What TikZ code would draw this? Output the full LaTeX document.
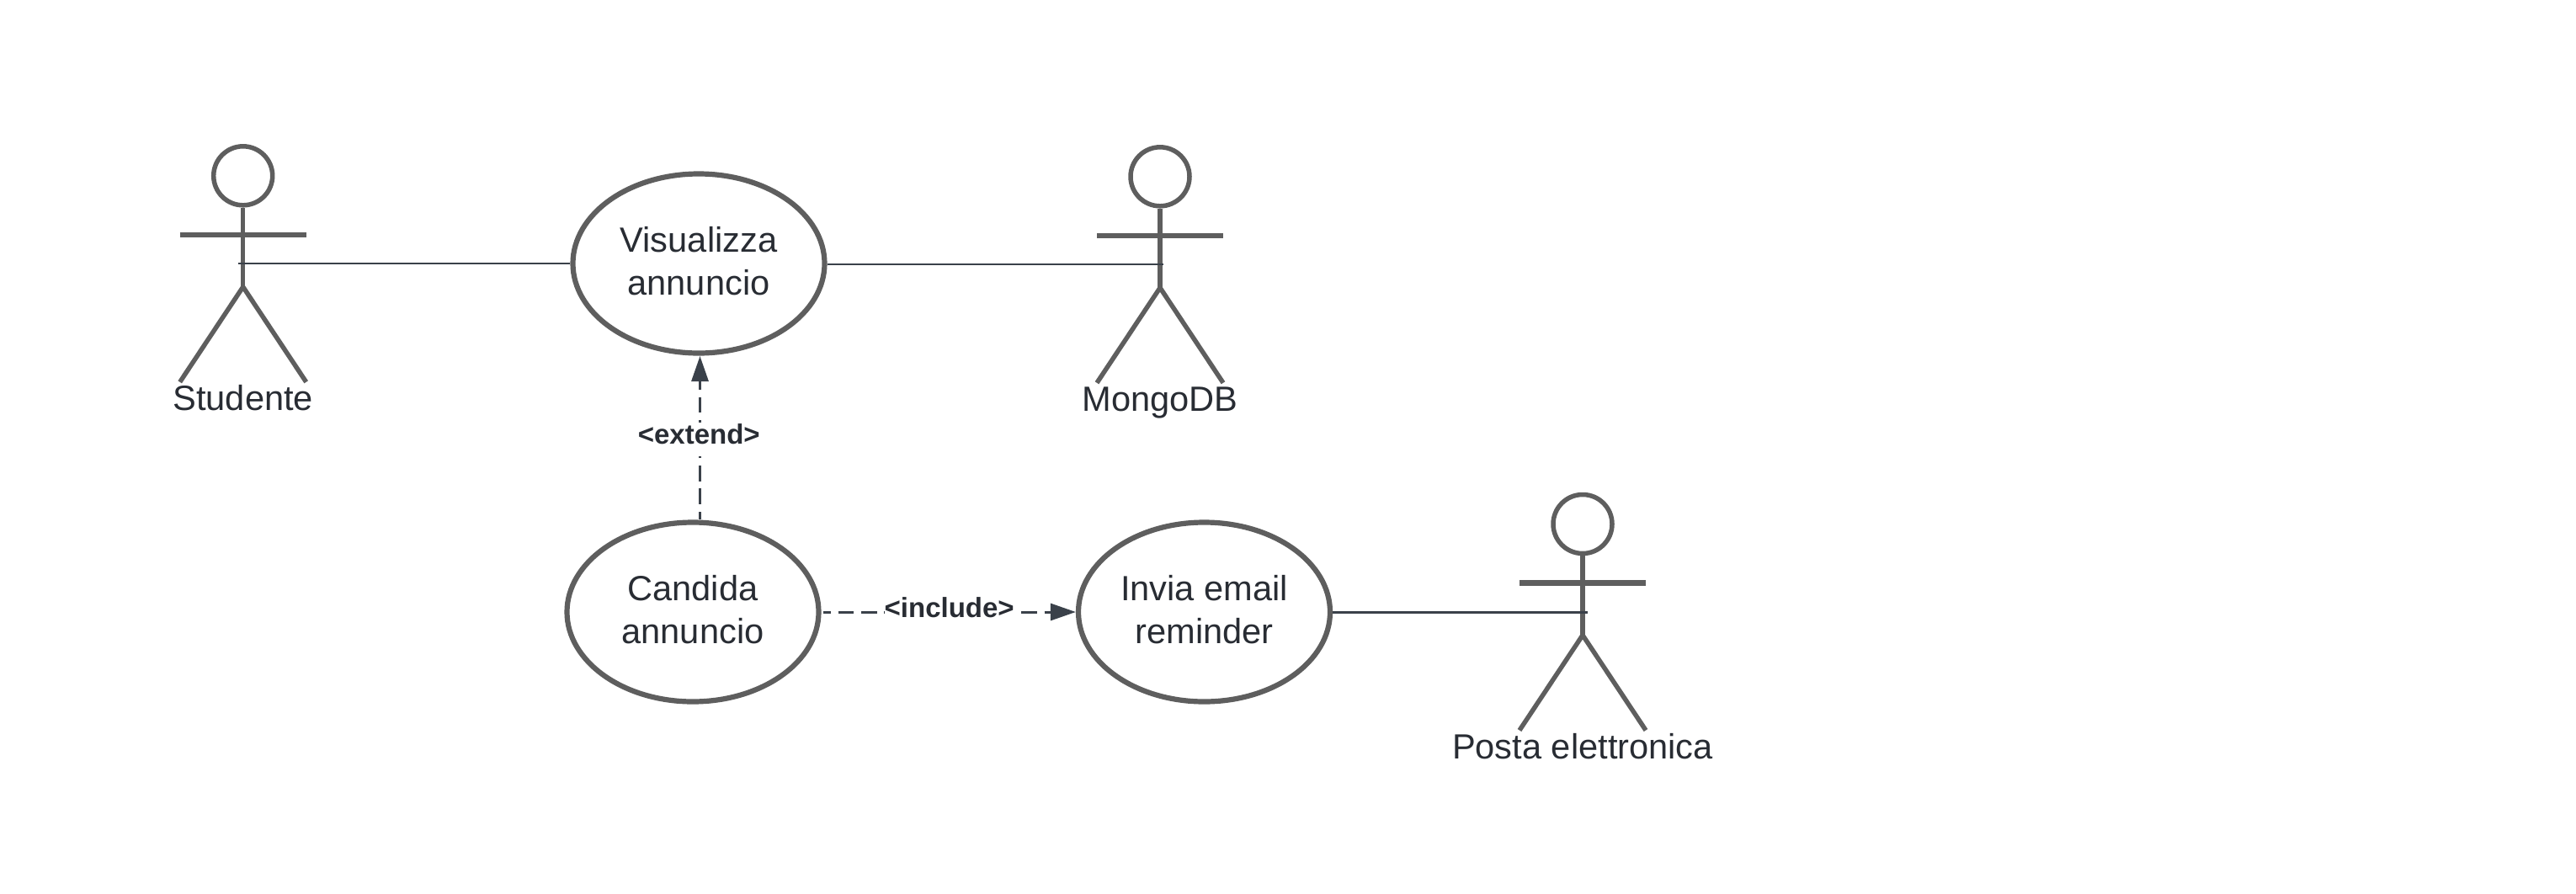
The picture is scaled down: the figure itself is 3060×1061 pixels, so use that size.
\documentclass[tikz,border=0pt]{standalone}
\usepackage{fontspec}
\setmainfont{Liberation Sans}
\usetikzlibrary{shapes.geometric,arrows.meta}
\definecolor{shapegray}{HTML}{5E5E5E}
\definecolor{textdark}{HTML}{282C33}
\definecolor{linedark}{HTML}{3A414A}
\newcommand{\lowfix}{\rule[-6pt]{0pt}{6pt}}
\tikzset{
  x=1pt,y=-1pt,
  usecase/.style={ellipse,draw=shapegray,line width=6.2pt,fill=white,minimum width=299pt,minimum height=213pt,inner sep=0pt,align=center,text=textdark,font=\fontsize{41.6}{50.5}\selectfont},
  limb/.style={draw=shapegray,line width=5.5pt},
  armbar/.style={draw=shapegray,line width=6.5pt},
  actorname/.style={anchor=base,inner sep=0pt,text=textdark,font=\fontsize{41.6}{50}\selectfont},
  assoc/.style={draw=linedark,line width=2.4pt},
  dep/.style={draw=linedark,line width=3pt,dash pattern=on 18.5pt off 8.7pt,dash phase=9pt,-{Triangle[length=30pt,width=20pt,color=linedark]}},
  deplabel/.style={anchor=base,fill=white,inner sep=0pt,text height=25pt,text depth=15pt,text=textdark,font=\bfseries\fontsize{33}{40}\selectfont},
}
\newcommand{\actor}[5]{%
  \node[circle,draw=shapegray,line width=5.5pt,minimum size=70pt,inner sep=0pt] (#1head) at (#2,#3) {};
  \coordinate (#1hip) at (#2,#3+132);
  \coordinate (#1armL) at (#2-75,#3+70);
  \coordinate (#1armR) at (#2+75,#3+70);
  \coordinate (#1footL) at (#2-75,#3+245);
  \coordinate (#1footR) at (#2+75,#3+245);
  \draw[limb] (#1head.south) -- (#1hip);
  \draw[armbar] (#1armL) -- (#1armR);
  \draw[limb] (#1footL) -- (#1hip) -- (#1footR);
  \node[actorname] (#1name) at (#2,#3+279) {#4};
  \coordinate (#1link) at (#2+#5,#3+105);
}
\begin{document}
\begin{tikzpicture}
\useasboundingbox (0,0) rectangle (3060,1061);
\actor{stud}{288.7}{208.8}{Studente}{-6}
\actor{mongo}{1378}{209.8}{MongoDB}{4}
\actor{posta}{1880}{622.5}{Posta elettronica}{6}
\node[usecase] (vis) at (830,313) {Visualizza\\annuncio\lowfix};
\node[usecase] (cand) at (823,727) {Candida\\annuncio\lowfix};
\node[usecase] (invia) at (1430.5,727) {Invia email\\reminder\lowfix};
\coordinate (extstart) at (831.5,617);
\coordinate (extend) at (831.5,423);
\draw[assoc] (vis.west -| studlink) -- (vis.west);
\draw[assoc] ([yshift=-1pt]vis.east) -- ([yshift=-1pt]vis.east -| mongolink);
\draw[assoc] ([yshift=-0.4pt]invia.east) -- ([yshift=-0.4pt]invia.east -| postalink);
\draw[dep] (extstart) -- (extend);
\draw[dep] ([xshift=2pt]cand.east) -- (invia.west);
\node[deplabel] (lext) at (830.3,527) {<extend>};
\node[deplabel] (linc) at (1127.7,733.5) {<include>};
\end{tikzpicture}
\end{document}
